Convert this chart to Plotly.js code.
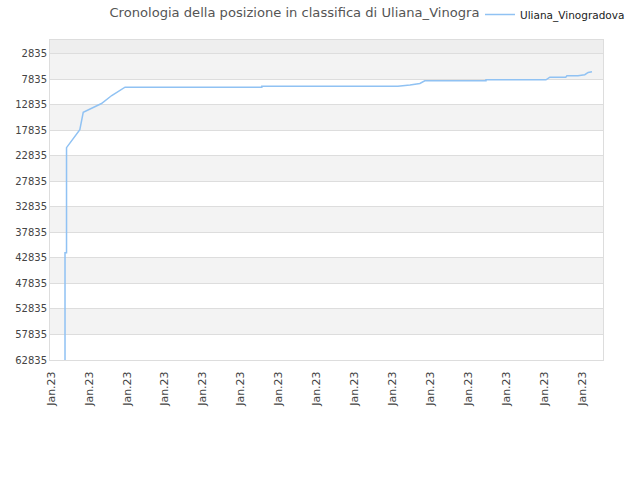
<!DOCTYPE html>
<html>
<head>
<meta charset="utf-8">
<script src="https://cdn.plot.ly/plotly-3.0.1.min.js"></script>
<style>
  html, body { margin: 0; padding: 0; background: #fff; }
  #chart { width: 640px; height: 480px; }
</style>
</head>
<body>
<div id="chart"></div>
<script>
// time steps (one unit = a tick step / 10) and ranking positions
const steps = [3.7, 3.7, 4.1, 4.1, 7.6, 8.2, 8.5, 13.3, 16.0, 19.5, 55.5, 55.5, 91.3, 94.5, 97.1, 98.4, 114.5, 114.5, 130.3, 131.3, 135.5, 135.8, 138.7, 140.5, 141.4, 142.4];
const positions = [62835, 41855, 41855, 21267, 17737, 15384, 14345, 12639, 11070, 9443, 9443, 9247, 9247, 9000, 8700, 8188, 8188, 7992, 7992, 7482, 7482, 7207, 7207, 7000, 6560, 6423];

const yTicks = [2835, 7835, 12835, 17835, 22835, 27835, 32835, 37835, 42835, 47835, 52835, 57835, 62835];
const yLabels = yTicks.map(String);
const xTicks = [0, 10, 20, 30, 40, 50, 60, 70, 80, 90, 100, 110, 120, 130, 140];
const xLabels = xTicks.map(() => "Jan.23");

const yTop = 200;

// alternating background bands between the y gridlines
let shapes = [{
    type: "rect", xref: "paper", yref: "y", layer: "below",
    x0: 0, x1: 1, y0: yTop, y1: yTicks[0],
    fillcolor: "#eeeeee", line: { width: 0 },
}];
for (let i = 0; i < yTicks.length - 1; i++) {
    if (i % 2 === 1) continue;
    shapes.push({
        type: "rect", xref: "paper", yref: "y", layer: "below",
        x0: 0, x1: 1, y0: yTicks[i], y1: yTicks[i + 1],
        fillcolor: "#f3f3f3", line: { width: 0 },
    });
}

let trace = {
    name: "Uliana_Vinogradova",
    x: steps,
    y: positions,
    type: "scatter",
    mode: "lines",
    line: { color: "#90c2f3", width: 1.5 },
};

let layout = {
    width: 640,
    height: 480,
    margin: { l: 50, r: 37, t: 40, b: 120, autoexpand: false },
    paper_bgcolor: "#ffffff",
    plot_bgcolor: "#ffffff",
    font: { family: "DejaVu Sans, sans-serif", size: 10, color: "#444444" },
    title: {
        text: "Cronologia della posizione in classifica di Uliana_Vinogra",
        font: { size: 13.1, color: "#555555" },
        xref: "container", x: 0.171, xanchor: "left",
        yref: "container", y: 0.975, yanchor: "middle",
    },
    showlegend: true,
    legend: {
        xref: "container", yref: "container",
        x: 0.75, y: 1.0, xanchor: "left", yanchor: "top",
        font: { size: 10.5, color: "#222222" },
        bgcolor: "rgba(0,0,0,0)",
        itemwidth: 30,
    },
    xaxis: {
        range: [-0.25, 145.3],
        tickvals: xTicks,
        ticktext: xLabels,
        tickangle: -90,
        tickfont: { size: 11 },
        ticklabelstandoff: 6,
        showgrid: false,
        zeroline: false,
        showline: true,
        linecolor: "#dddddd",
        mirror: true,
        ticks: "",
        fixedrange: true,
    },
    yaxis: {
        range: [62835, yTop],
        tickvals: yTicks,
        ticktext: yLabels,
        showgrid: true,
        gridcolor: "#dddddd",
        zeroline: false,
        showline: true,
        linecolor: "#dddddd",
        mirror: true,
        ticks: "",
        fixedrange: true,
    },
    shapes: shapes,
};

Plotly.newPlot("chart", [trace], layout, { displayModeBar: false, responsive: false });
</script>
</body>
</html>
